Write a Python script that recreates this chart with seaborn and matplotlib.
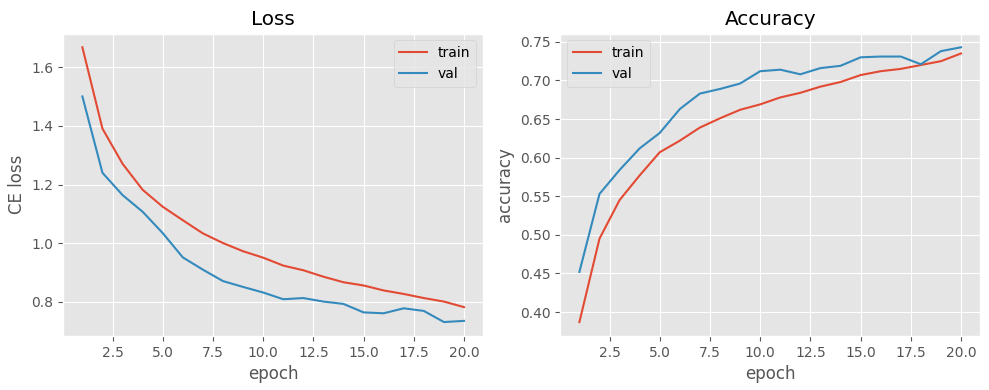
import matplotlib
matplotlib.use("Agg")
import matplotlib.pyplot as plt
import seaborn as sns
import pandas as pd

epochs = list(range(1, 21))
train_loss = [1.669, 1.391, 1.271, 1.182, 1.124, 1.078, 1.033, 1.000, 0.972, 0.950,
              0.923, 0.907, 0.885, 0.866, 0.855, 0.838, 0.826, 0.812, 0.800, 0.781]
val_loss = [1.501, 1.240, 1.164, 1.107, 1.034, 0.951, 0.909, 0.870, 0.850, 0.831,
            0.808, 0.812, 0.800, 0.792, 0.763, 0.760, 0.777, 0.768, 0.730, 0.734]
train_acc = [0.387, 0.495, 0.545, 0.577, 0.607, 0.622, 0.639, 0.651, 0.662, 0.669,
             0.678, 0.684, 0.692, 0.698, 0.707, 0.712, 0.715, 0.720, 0.725, 0.735]
val_acc = [0.452, 0.553, 0.584, 0.612, 0.632, 0.663, 0.683, 0.689, 0.696, 0.712,
           0.714, 0.708, 0.716, 0.719, 0.730, 0.731, 0.731, 0.721, 0.738, 0.743]

plt.style.use("ggplot")
colors = ["#E24A33", "#348ABD"]

loss_df = pd.DataFrame({
    "epoch": epochs * 2,
    "value": train_loss + val_loss,
    "split": ["train"] * 20 + ["val"] * 20,
})
acc_df = pd.DataFrame({
    "epoch": epochs * 2,
    "value": train_acc + val_acc,
    "split": ["train"] * 20 + ["val"] * 20,
})

fig, axes = plt.subplots(1, 2, figsize=(9.89, 3.9), dpi=100)
fig.subplots_adjust(left=0.064, right=0.991, bottom=0.139, top=0.914, wspace=0.184)

sns.lineplot(data=loss_df, x="epoch", y="value", hue="split", palette=colors, ax=axes[0], linewidth=1.5)
axes[0].set_title("Loss")
axes[0].set_xlabel("epoch")
axes[0].set_ylabel("CE loss")
axes[0].legend(loc="upper right")

sns.lineplot(data=acc_df, x="epoch", y="value", hue="split", palette=colors, ax=axes[1], linewidth=1.5)
axes[1].set_title("Accuracy")
axes[1].set_xlabel("epoch")
axes[1].set_ylabel("accuracy")
axes[1].legend(loc="upper left")

fig.savefig("out.png", dpi=100)
